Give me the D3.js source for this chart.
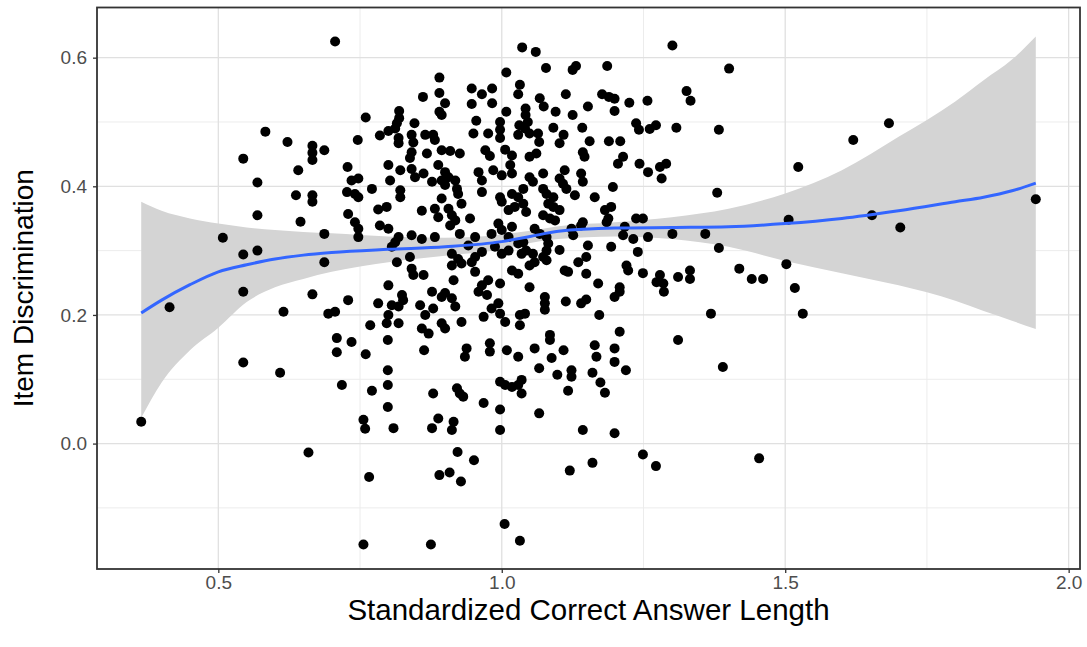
<!DOCTYPE html>
<html>
<head>
<meta charset="utf-8">
<script src="https://cdn.jsdelivr.net/npm/d3@7"></script>
<style>
  body { margin: 0; background: #fff; }
  text { font-family: "Liberation Sans", Arial, sans-serif; }
</style>
</head>
<body>
<svg class="chart" width="1087" height="647"></svg>
<script>
// [standardized correct answer length, item discrimination]
const itemPoints = [
  // left, sparse
  [0.364,0.034],[0.414,0.212],[0.508,0.320],[0.544,0.443],[0.544,0.294],[0.544,0.236],[0.544,0.126],
  [0.569,0.406],[0.569,0.355],[0.569,0.300],[0.583,0.485],[0.609,0.110],[0.615,0.205],[0.622,0.469],
  [0.641,0.425],[0.637,0.386],[0.645,0.345],[0.659,-0.014],[0.666,0.463],[0.666,0.452],[0.666,0.441],
  [0.666,0.386],[0.666,0.376],[0.666,0.232],[0.687,0.456],[0.687,0.326],[0.687,0.282],[0.694,0.202],
  [0.706,0.205],[0.706,0.625],[0.709,0.164],[0.709,0.142],[0.718,0.091],
  // right, sparse
  [1.401,0.583],[1.383,0.488],[1.683,0.498],[1.620,0.472],[1.523,0.430],[1.380,0.390],[1.506,0.348],
  [1.653,0.355],[1.942,0.380],[1.703,0.336],[1.359,0.326],[1.383,0.304],[1.419,0.272],[1.441,0.256],
  [1.461,0.256],[1.502,0.279],[1.517,0.242],[1.369,0.202],[1.531,0.202],[1.390,0.119],[1.454,-0.023],
  // middle, upper
  [1.036,0.616],[0.890,0.569],[1.008,0.577],[0.861,0.539],[0.890,0.545],[0.900,0.529],[0.890,0.516],
  [0.894,0.511],[0.947,0.552],[0.965,0.543],[0.983,0.552],[0.947,0.528],[0.983,0.529],[1.008,0.516],
  [1.032,0.558],[1.029,0.543],[0.760,0.507],[0.819,0.517],[0.819,0.506],[0.815,0.498],[0.812,0.490],
  [0.800,0.486],[0.785,0.479],[0.746,0.472],[0.846,0.498],[0.841,0.480],[0.844,0.468],[0.818,0.475],
  [0.818,0.467],[0.865,0.480],[0.879,0.480],[0.882,0.472],[0.955,0.502],[0.950,0.482],[0.976,0.482],
  [0.997,0.500],[0.997,0.488],[0.997,0.475],[1.031,0.495],[1.029,0.480],
  [1.060,0.609],[1.301,0.619],[1.078,0.584],[1.125,0.581],[1.131,0.587],[1.186,0.587],[1.067,0.537],
  [1.074,0.524],[1.113,0.543],[1.042,0.521],[1.042,0.511],[1.046,0.500],[1.041,0.490],[1.049,0.482],
  [1.095,0.516],[1.125,0.511],[1.152,0.524],[1.177,0.543],[1.189,0.539],[1.199,0.536],[1.199,0.517],
  [1.225,0.530],[1.257,0.533],[1.326,0.548],[1.333,0.533],[1.064,0.482],[1.066,0.469],[1.091,0.491],
  [1.109,0.480],[1.102,0.467],[1.142,0.491],[1.155,0.470],[1.189,0.470],[1.209,0.470],[1.237,0.498],
  [1.242,0.488],[1.261,0.489],[1.272,0.495],[1.308,0.491],
  // middle, centre left
  [0.841,0.453],[0.838,0.444],[0.868,0.451],[0.894,0.456],[0.909,0.455],[0.926,0.451],[0.971,0.456],
  [0.979,0.447],[1.006,0.457],[1.018,0.448],[0.728,0.430],[0.800,0.433],[0.821,0.425],[0.841,0.427],
  [0.847,0.414],[0.862,0.420],[0.888,0.433],[0.900,0.422],[0.906,0.414],[0.877,0.407],[0.894,0.409],
  [0.900,0.402],[0.918,0.409],[0.921,0.396],[0.923,0.388],[0.959,0.422],[0.965,0.409],[0.985,0.425],
  [1.000,0.417],[1.015,0.433],[1.018,0.420],[0.735,0.409],[0.747,0.412],[0.727,0.391],[0.741,0.388],
  [0.747,0.383],[0.771,0.396],[0.803,0.409],[0.821,0.394],[0.821,0.383],[0.965,0.391],[0.997,0.383],
  [1.000,0.376],[1.018,0.388],[1.029,0.383],[1.012,0.363],[1.023,0.368],[0.894,0.381],[0.929,0.373],
  [0.797,0.368],[0.782,0.364],[0.859,0.362],[0.882,0.365],[0.888,0.352],[0.906,0.365],[0.912,0.355],
  [0.918,0.347],[0.909,0.339],[0.944,0.350],[0.729,0.357],[0.741,0.344],[0.747,0.334],[0.747,0.321],
  [0.785,0.339],[0.800,0.334],[0.841,0.324],[0.859,0.318],[0.818,0.321],[0.812,0.313],[0.806,0.306],
  [0.882,0.321],[0.926,0.326],[0.953,0.321],[0.982,0.326],[0.994,0.342],[1.000,0.332],[1.012,0.321],
  [1.018,0.337],[0.941,0.308],[0.912,0.295],[0.923,0.287],[0.912,0.277],[0.929,0.280],[0.953,0.290],
  [0.965,0.298],[0.947,0.282],[0.988,0.306],[1.000,0.295],[1.012,0.300],[1.029,0.311],[1.035,0.295],
  [0.815,0.282],[0.838,0.290],[0.841,0.272],[0.844,0.262],[0.862,0.262],[0.800,0.246],[0.915,0.254],
  [0.953,0.267],[0.965,0.246],[0.976,0.254],[0.997,0.249],[1.018,0.269],[1.029,0.264],
  // middle, centre right
  [1.049,0.446],[1.061,0.451],[1.143,0.453],[1.146,0.446],[1.214,0.446],[1.205,0.435],[1.243,0.435],
  [1.258,0.422],[1.279,0.430],[1.290,0.435],[1.282,0.412],[1.073,0.420],[1.049,0.414],[1.055,0.407],
  [1.102,0.412],[1.111,0.425],[1.108,0.404],[1.114,0.396],[1.140,0.420],[1.143,0.407],[1.196,0.399],
  [1.038,0.396],[1.073,0.396],[1.079,0.388],[1.091,0.383],[1.129,0.386],[1.164,0.383],[1.038,0.373],
  [1.043,0.360],[1.082,0.373],[1.091,0.368],[1.102,0.363],[1.073,0.355],[1.085,0.350],[1.094,0.347],
  [1.182,0.363],[1.193,0.368],[1.188,0.350],[1.185,0.344],[1.143,0.344],[1.140,0.339],[1.237,0.350],
  [1.249,0.350],[1.217,0.337],[1.058,0.334],[1.067,0.326],[1.123,0.334],[1.126,0.324],[1.214,0.324],
  [1.232,0.318],[1.258,0.321],[1.301,0.326],[1.079,0.321],[1.082,0.311],[1.079,0.300],[1.073,0.290],
  [1.038,0.313],[1.043,0.300],[1.102,0.301],[1.152,0.308],[1.193,0.306],[1.240,0.298],[1.055,0.295],
  [1.058,0.282],[1.049,0.277],[1.079,0.285],[1.135,0.282],[1.149,0.290],[1.111,0.269],[1.117,0.267],
  [1.149,0.264],[1.220,0.277],[1.223,0.269],[1.249,0.265],[1.279,0.262],[1.273,0.251],[1.285,0.249],
  [1.311,0.259],[1.332,0.269],[1.332,0.256],[1.170,0.249],[1.208,0.243],[1.049,0.243],
  // middle, lower left
  [0.729,0.223],[0.782,0.218],[0.824,0.231],[0.826,0.223],[0.818,0.213],[0.806,0.215],[0.800,0.200],
  [0.797,0.187],[0.818,0.187],[0.768,0.184],[0.856,0.215],[0.865,0.200],[0.879,0.210],[0.877,0.236],
  [0.894,0.228],[0.900,0.234],[0.912,0.226],[0.918,0.213],[0.894,0.187],[0.900,0.179],[0.929,0.189],
  [0.859,0.179],[0.871,0.171],[0.959,0.236],[0.974,0.231],[0.968,0.197],[0.982,0.210],[0.994,0.218],
  [0.997,0.202],[1.006,0.189],[1.032,0.200],[1.032,0.184],[0.735,0.158],[0.799,0.161],[0.760,0.139],
  [0.863,0.145],[0.938,0.148],[0.935,0.135],[0.979,0.156],[0.979,0.143],[1.009,0.145],[1.029,0.135],
  [0.799,0.114],[0.799,0.091],[0.771,0.082],[0.879,0.078],[0.921,0.086],[0.926,0.078],[0.932,0.073],
  [0.997,0.096],[1.006,0.091],[1.018,0.088],[1.029,0.091],[1.035,0.099],[1.035,0.078],[0.968,0.063],
  [0.997,0.053],[0.799,0.057],[0.756,0.037],[0.759,0.023],[0.809,0.024],[0.888,0.039],[0.877,0.024],
  [0.915,0.034],[0.912,0.021],[0.997,0.021],
  // middle, lower right
  [1.076,0.228],[1.076,0.218],[1.076,0.208],[1.113,0.221],[1.140,0.218],[1.149,0.224],[1.199,0.228],
  [1.208,0.236],[1.286,0.236],[1.041,0.202],[1.172,0.200],[1.208,0.174],[1.085,0.169],[1.085,0.161],
  [1.311,0.161],[1.058,0.148],[1.109,0.145],[1.164,0.153],[1.167,0.135],[1.199,0.148],[1.088,0.133],
  [1.199,0.127],[1.219,0.114],[1.066,0.117],[1.123,0.114],[1.123,0.104],[1.098,0.107],[1.160,0.110],
  [1.174,0.095],[1.182,0.079],[1.117,0.082],[1.066,0.047],[1.143,0.021],[1.199,0.016],
  // below zero
  [0.922,-0.013],[0.951,-0.026],[0.890,-0.049],[0.908,-0.045],[0.928,-0.059],[0.766,-0.052],
  [1.005,-0.125],[1.032,-0.151],[0.756,-0.157],[0.875,-0.157],[1.120,-0.042],[1.160,-0.030],
  [1.249,-0.017],[1.272,-0.035]
]

// loess fit with its 95% band
const smoothX     = [0.364, 0.40, 0.45, 0.50, 0.55, 0.60, 0.65, 0.70, 0.80, 0.90, 1.00, 1.05, 1.10, 1.20, 1.30, 1.40, 1.50, 1.60, 1.70, 1.80, 1.85, 1.90, 1.942]
const smoothFit   = [0.203, 0.223, 0.247, 0.267, 0.278, 0.287, 0.293, 0.297, 0.302, 0.306, 0.314, 0.322, 0.330, 0.335, 0.336, 0.337, 0.342, 0.350, 0.362, 0.376, 0.383, 0.393, 0.405]
const smoothUpper = [0.376, 0.362, 0.350, 0.342, 0.336, 0.332, 0.329, 0.327, 0.322, 0.320, 0.325, 0.331, 0.338, 0.344, 0.352, 0.365, 0.389, 0.425, 0.477, 0.532, 0.565, 0.597, 0.633]
const smoothLower = [0.040, 0.095, 0.145, 0.180, 0.220, 0.243, 0.256, 0.267, 0.282, 0.292, 0.302, 0.312, 0.318, 0.322, 0.318, 0.306, 0.284, 0.265, 0.246, 0.222, 0.206, 0.191, 0.178]

const xTicks = [0.5, 1.0, 1.5, 2.0]
const xMinor = [0.75, 1.25, 1.75]
const yTicks = [0.0, 0.2, 0.4, 0.6]
const yMinor = [-0.1, 0.1, 0.3, 0.5]

let svg = d3.select("svg.chart")
let panelLeft = 97, panelRight = 1080, panelTop = 7.5, panelBottom = 569

let x = d3.scaleLinear().domain([0.286, 2.020]).range([panelLeft, panelRight])
let y = d3.scaleLinear().domain([-0.195, 0.678]).range([panelBottom, panelTop])

// grid
let grid = svg.append("g")
grid.selectAll(".minx").data(xMinor).enter().append("line")
    .attr("x1", d => x(d)).attr("x2", d => x(d))
    .attr("y1", panelTop).attr("y2", panelBottom)
    .attr("stroke", "#ececec").attr("stroke-width", 1)
grid.selectAll(".miny").data(yMinor).enter().append("line")
    .attr("x1", panelLeft).attr("x2", panelRight)
    .attr("y1", d => y(d)).attr("y2", d => y(d))
    .attr("stroke", "#ececec").attr("stroke-width", 1)
grid.selectAll(".majx").data(xTicks).enter().append("line")
    .attr("x1", d => x(d)).attr("x2", d => x(d))
    .attr("y1", panelTop).attr("y2", panelBottom)
    .attr("stroke", "#e0e0e0").attr("stroke-width", 1.3)
grid.selectAll(".majy").data(yTicks).enter().append("line")
    .attr("x1", panelLeft).attr("x2", panelRight)
    .attr("y1", d => y(d)).attr("y2", d => y(d))
    .attr("stroke", "#e0e0e0").attr("stroke-width", 1.3)

// confidence band
let band = smoothX.map((v, i) => ({x: v, lo: smoothLower[i], hi: smoothUpper[i], fit: smoothFit[i]}))
svg.append("path")
    .datum(band)
    .attr("fill", "#d4d4d4")
    .attr("d", d3.area().x(d => x(d.x)).y0(d => y(d.lo)).y1(d => y(d.hi)).curve(d3.curveMonotoneX))

// points
svg.append("g")
  .selectAll("circle")
  .data(itemPoints)
  .enter().append("circle")
    .attr("cx", d => x(d[0]))
    .attr("cy", d => y(d[1]))
    .attr("r", 5)
    .attr("fill", "#000")

// fitted line
svg.append("path")
    .datum(band)
    .attr("fill", "none")
    .attr("stroke", "#3366ff")
    .attr("stroke-width", 3)
    .attr("d", d3.line().x(d => x(d.x)).y(d => y(d.fit)).curve(d3.curveMonotoneX))

// panel border
svg.append("rect")
    .attr("x", panelLeft).attr("y", panelTop)
    .attr("width", panelRight - panelLeft).attr("height", panelBottom - panelTop)
    .attr("fill", "none").attr("stroke", "#333").attr("stroke-width", 1.8)

// axes
let xAxis = svg.append("g")
    .attr("transform", `translate(0,${panelBottom})`)
    .call(d3.axisBottom(x).tickValues(xTicks).tickFormat(d3.format(".1f")).tickSize(4).tickPadding(3))
let yAxis = svg.append("g")
    .attr("transform", `translate(${panelLeft},0)`)
    .call(d3.axisLeft(y).tickValues(yTicks).tickFormat(d3.format(".1f")).tickSize(4).tickPadding(6))

for (let ax of [xAxis, yAxis]) {
  ax.select(".domain").remove()
  ax.selectAll(".tick line").attr("stroke", "#333").attr("stroke-width", 1.3)
  ax.selectAll(".tick text")
      .attr("fill", "#4d4d4d")
      .style("font-size", "19px")
      .style("font-family", "'Liberation Sans', Arial, sans-serif")
}

svg.append("text")
    .attr("x", (panelLeft + panelRight) / 2)
    .attr("y", 620)
    .attr("text-anchor", "middle")
    .style("font-size", "29.5px")
    .text("Standardized Correct Answer Length")

svg.append("text")
    .attr("transform", `translate(33,${(panelTop + panelBottom) / 2}) rotate(-90)`)
    .attr("text-anchor", "middle")
    .style("font-size", "28px")
    .text("Item Discrimination")
</script>
</body>
</html>
